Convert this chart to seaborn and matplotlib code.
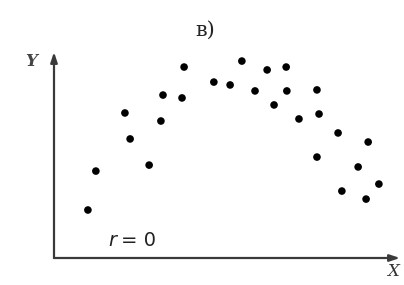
import numpy as np
import pandas as pd
import seaborn as sns
import matplotlib
matplotlib.use('Agg')
import matplotlib.pyplot as plt

sns.set_style('white')

# points (arbitrary units, 0..100 on both axes)
x_vals = [9.8, 12.1, 20.5, 22.0, 27.5, 31.5, 30.9, 37.0, 37.6, 46.2, 50.9, 54.3, 58.1, 61.6,
          63.6, 67.1, 67.3, 70.8, 76.0, 76.6, 76.0, 82.1, 83.2, 87.9, 90.8, 90.2, 93.9]
y_vals = [23.3, 42.2, 70.4, 57.8, 45.1, 79.1, 66.5, 77.7, 92.7, 85.4, 84.0, 95.6, 81.1, 91.3,
          74.3, 92.7, 81.1, 67.5, 81.6, 69.9, 49.0, 60.7, 32.5, 44.2, 56.3, 28.6, 35.9]
title = 'в)'
r_label = '= 0'

df = pd.DataFrame({'x': x_vals, 'y': y_vals})

fig = plt.figure(figsize=(4.04, 2.85), dpi=100)
ax = fig.add_axes([54 / 404, 27 / 285, 346 / 404, 206 / 285])
sns.scatterplot(data=df, x='x', y='y', ax=ax, color='black', s=30, edgecolor='none')

ax.set_xlim(0, 100)
ax.set_ylim(0, 100)
ax.set_xticks([])
ax.set_yticks([])
ax.set_xlabel('')
ax.set_ylabel('')
for sp in ax.spines.values():
    sp.set_visible(False)

axis_col = '#3a3a3a'
arrow = dict(arrowstyle='-|>,head_length=0.6,head_width=0.2', color=axis_col, lw=1.6,
             shrinkA=0, shrinkB=0)
ax.annotate('', xy=(1.0, 0), xytext=(0, 0), xycoords='axes fraction', arrowprops=arrow)
ax.annotate('', xy=(0, 1.0), xytext=(0, 0), xycoords='axes fraction', arrowprops=arrow)

fig.text(31 / 404, 1 - 62 / 285, 'Y', fontsize=12, style='italic', weight='bold',
         family='DejaVu Serif', color='#444444', ha='center', va='center')
fig.text(393 / 404, 1 - 272 / 285, 'X', fontsize=12, style='italic', family='DejaVu Serif',
         color='#333333', ha='center', va='center')
fig.text(205 / 404, 1 - 30 / 285, title, fontsize=15, family='DejaVu Serif',
         ha='center', va='center')
fig.text(112 / 404, 1 - 241 / 285, 'r', fontsize=14, style='italic',
         color='#222222', ha='center', va='center')
fig.text(121 / 404, 1 - 241 / 285, r_label, fontsize=14, color='#222222',
         ha='left', va='center')

fig.savefig('out.png', dpi=100)
